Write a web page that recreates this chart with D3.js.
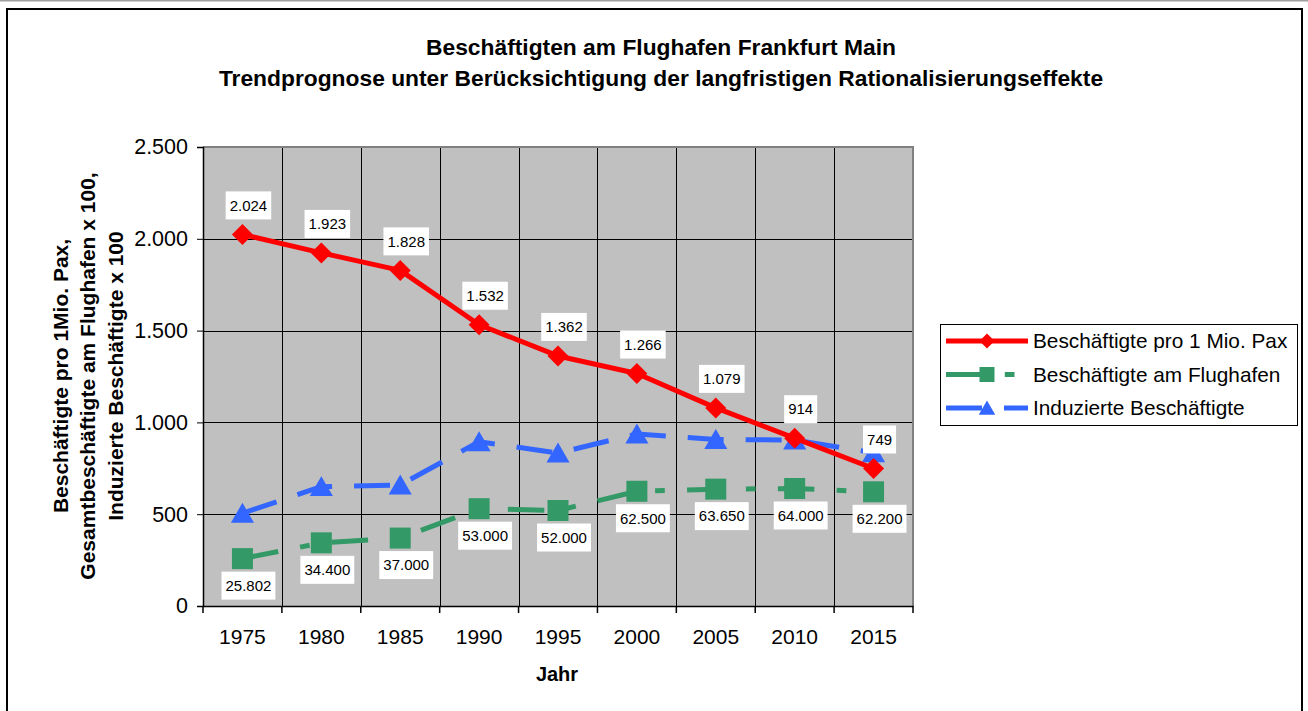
<!DOCTYPE html>
<html lang="de">
<head>
<meta charset="UTF-8">
<title>Beschäftigten am Flughafen Frankfurt Main</title>
<script src="https://cdnjs.cloudflare.com/ajax/libs/d3/7.8.2/d3.min.js"></script>
<style>
    html, body { margin: 0; padding: 0; background: #fff; }
    svg { display: block; font-family: Arial, "Liberation Sans", sans-serif; }
</style>
</head>
<body>
<div id="chart"></div>
<script>
    // Werte
    const years = ["1975", "1980", "1985", "1990", "1995", "2000", "2005", "2010", "2015"];
    const proMioPax = [2024, 1923, 1828, 1532, 1362, 1266, 1079, 914, 749];
    const amFlughafen = [25802, 34400, 37000, 53000, 52000, 62500, 63650, 64000, 62200];
    const induzierte = [505, 650, 659, 895, 833, 937, 907, 904, 835];
    const yTicks = [0, 500, 1000, 1500, 2000, 2500];
    const titleLines = ["Beschäftigten am Flughafen Frankfurt Main",
        "Trendprognose unter Berücksichtigung der langfristigen Rationalisierungseffekte"];
    const yTitleLines = ["Beschäftigte pro 1Mio. Pax,",
        "Gesamtbeschäftigte am Flughafen x 100,",
        "Induzierte Beschäftigte x 100"];
    const seriesNames = ["Beschäftigte pro 1 Mio. Pax", "Beschäftigte am Flughafen", "Induzierte Beschäftigte"];

    const W = 1308, H = 711;
    const plot = { left: 203, right: 913, top: 147, bottom: 606 };
    const FONT = "Arial, 'Liberation Sans', sans-serif";

    const de = d3.formatLocale({ decimal: ",", thousands: ".", grouping: [3], currency: ["", " €"] });
    const fmt = de.format(",d");

    const svg = d3.select("#chart").append("svg")
        .attr("width", W)
        .attr("height", H);

    // Rahmen
    svg.append("line")
        .attr("x1", 0).attr("x2", W).attr("y1", 0.5).attr("y2", 0.5)
        .attr("stroke", "#a0a0a0").attr("stroke-width", 2);
    svg.append("rect")
        .attr("x", 7).attr("y", 9)
        .attr("width", 1295).attr("height", 720)
        .attr("fill", "#fff")
        .attr("stroke", "#000").attr("stroke-width", 2);

    const x = d3.scaleBand()
        .domain(years)
        .range([plot.left, plot.right]);

    const y = d3.scaleLinear()
        .domain([0, 2500])
        .range([plot.bottom, plot.top]);

    const cx = d => x(d) + x.bandwidth() / 2;

    // Plotfläche
    svg.append("rect")
        .attr("x", plot.left).attr("y", plot.top)
        .attr("width", plot.right - plot.left)
        .attr("height", plot.bottom - plot.top)
        .attr("fill", "#c0c0c0");

    // Gitternetz
    svg.append("g")
        .selectAll("line")
        .data(yTicks.slice(1, -1))
        .enter().append("line")
        .attr("x1", plot.left).attr("x2", plot.right)
        .attr("y1", d => Math.round(y(d)) + 0.5).attr("y2", d => Math.round(y(d)) + 0.5)
        .attr("stroke", "#000").attr("stroke-width", 1);

    svg.append("g")
        .selectAll("line")
        .data(years.slice(1))
        .enter().append("line")
        .attr("x1", d => Math.round(x(d)) + 0.5).attr("x2", d => Math.round(x(d)) + 0.5)
        .attr("y1", plot.top).attr("y2", plot.bottom)
        .attr("stroke", "#000").attr("stroke-width", 1);

    // grauer Rand oben/rechts
    svg.append("path")
        .attr("d", `M${plot.left},${plot.top}H${plot.right}V${plot.bottom}`)
        .attr("fill", "none")
        .attr("stroke", "#808080").attr("stroke-width", 2);

    // Achsen
    const yAxis = svg.append("g")
        .attr("transform", `translate(${plot.left},0)`)
        .call(d3.axisLeft(y).tickValues(yTicks).tickFormat(fmt).tickSize(6).tickPadding(9));
    yAxis.select(".domain").attr("stroke", "#000").attr("stroke-width", 1.5);
    yAxis.selectAll("text").attr("font-size", 21.5).attr("fill", "#000").attr("font-family", FONT);

    const xAxis = svg.append("g")
        .attr("transform", `translate(0,${plot.bottom})`)
        .call(d3.axisBottom(x).tickSize(0).tickPadding(23));
    xAxis.select(".domain").attr("stroke", "#000").attr("stroke-width", 1.5);
    xAxis.selectAll("text").attr("font-size", 21).attr("fill", "#000").attr("font-family", FONT);

    // Teilstriche zwischen den Kategorien
    svg.append("g")
        .selectAll("line")
        .data(years.concat(["end"]))
        .enter().append("line")
        .attr("x1", (d, i) => plot.left + i * x.bandwidth())
        .attr("x2", (d, i) => plot.left + i * x.bandwidth())
        .attr("y1", plot.bottom).attr("y2", plot.bottom + 7)
        .attr("stroke", "#000").attr("stroke-width", 1.5);

    // Titel
    svg.append("g")
        .selectAll("text")
        .data(titleLines)
        .enter().append("text")
        .attr("x", 661)
        .attr("y", (d, i) => 55 + i * 31)
        .attr("text-anchor", "middle")
        .attr("font-size", 22.8)
        .attr("font-weight", "bold")
        .text(d => d);

    svg.append("text")
        .attr("x", 557).attr("y", 681)
        .attr("text-anchor", "middle")
        .attr("font-size", 20)
        .attr("font-weight", "bold")
        .text("Jahr");

    svg.append("g")
        .attr("transform", "translate(0,376) rotate(-90)")
        .selectAll("text")
        .data(yTitleLines)
        .enter().append("text")
        .attr("x", 0)
        .attr("y", (d, i) => 67.5 + i * 27.5)
        .attr("text-anchor", "middle")
        .attr("font-size", 21)
        .attr("font-weight", "bold")
        .text(d => d);

    // Reihen
    const series = [
        { name: seriesNames[2], values: induzierte, color: "#3366ff", dash: "36,22", marker: "triangle" },
        { name: seriesNames[1], values: amFlughafen.map(v => v / 100), color: "#339966", dash: "36.5,22.3,9.7,22.3", marker: "square" },
        { name: seriesNames[0], values: proMioPax, color: "#ff0000", dash: null, marker: "diamond" }
    ];

    function markerPath(type, s) {
        if (type === "diamond") return `M0,${-s}L${s},0L0,${s}L${-s},0Z`;
        if (type === "square") return `M${-s},${-s}H${s}V${s}H${-s}Z`;
        return `M0,${-s}L${s * 1.1},${s * 0.9}L${-s * 1.1},${s * 0.9}Z`;
    }

    const line = d3.line()
        .x((d, i) => cx(years[i]))
        .y(d => y(d));

    series.forEach(s => {
        svg.append("path")
            .datum(s.values)
            .attr("d", line)
            .attr("fill", "none")
            .attr("stroke", s.color)
            .attr("stroke-width", 5)
            .attr("stroke-linejoin", "round")
            .attr("stroke-dasharray", s.dash);

        svg.append("g")
            .selectAll("path")
            .data(s.values)
            .enter().append("path")
            .attr("transform", (d, i) => `translate(${cx(years[i])},${y(d)})`)
            .attr("d", markerPath(s.marker, 10.5))
            .attr("fill", s.color);
    });

    // Datenbeschriftungen
    function addLabels(values, text, dy) {
        const g = svg.append("g");
        values.forEach((v, i) => {
            const lg = g.append("g")
                .attr("transform", `translate(${cx(years[i]) + 6},${y(v) + dy})`);
            const rect = lg.append("rect").attr("fill", "#fff");
            const t = lg.append("text")
                .attr("text-anchor", "middle")
                .attr("dy", "0.35em")
                .attr("font-size", 15)
                .attr("fill", "#000")
                .text(text[i]);
            const b = t.node().getBBox();
            rect.attr("x", b.x - 4).attr("y", -14)
                .attr("width", b.width + 8).attr("height", 28);
        });
    }
    addLabels(proMioPax, proMioPax.map(fmt), -29);
    addLabels(amFlughafen.map(v => v / 100), amFlughafen.map(fmt), 27);

    // Legende
    const legend = svg.append("g");
    legend.append("rect")
        .attr("x", 940.5).attr("y", 324.5)
        .attr("width", 357).attr("height", 101)
        .attr("fill", "#fff")
        .attr("stroke", "#000").attr("stroke-width", 1);

    const legendRows = [series[2], series[1], series[0]];
    legendRows.forEach((s, i) => {
        const ly = 341 + i * 33.5;
        legend.append("line")
            .attr("x1", 946).attr("x2", 1028)
            .attr("y1", ly).attr("y2", ly)
            .attr("stroke", s.color).attr("stroke-width", 5)
            .attr("stroke-dasharray", s.dash);
        legend.append("path")
            .attr("transform", `translate(987,${ly})`)
            .attr("d", markerPath(s.marker, 7.5))
            .attr("fill", s.color);
        legend.append("text")
            .attr("x", 1033).attr("y", ly)
            .attr("dy", "0.35em")
            .attr("font-size", 20.8)
            .attr("fill", "#000")
            .text(s.name);
    });
</script>
</body>
</html>
